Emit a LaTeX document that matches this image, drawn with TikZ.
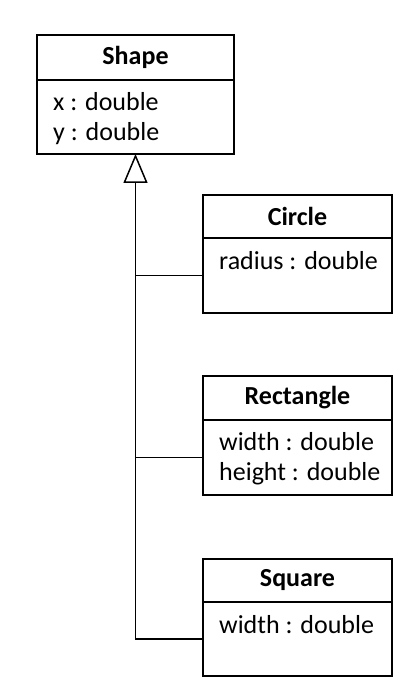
\documentclass[tikz,border=0pt]{standalone}
\usepackage{fontspec}
\setmainfont{Carlito}
\usetikzlibrary{arrows.meta}
\usetikzlibrary{positioning}
\tikzset{class head/.style={rectangle,draw,line width=1.6pt,minimum height=44pt,inner sep=0pt,outer sep=0pt,font=\fontsize{26}{30}\selectfont\bfseries}}
\tikzset{class body/.style={rectangle,draw,line width=1.6pt,minimum height=75pt,inner sep=0pt,outer sep=0pt}}
\tikzset{attr text/.style={anchor=base west,inner sep=0pt,align=left,font=\fontsize{26}{30}\selectfont}}
\tikzset{link/.style={line width=1.5pt}}

\begin{document}
\begin{tikzpicture}[x=1pt,y=1pt]
    \useasboundingbox (0,0) rectangle (420,686);
    % base class
    \node[class head,minimum width=197pt,minimum height=45pt] (shape head) at (135.5,628.5) {Shape};
    \node[class body,minimum width=197pt,minimum height=74pt] (shape body) [below = 0pt of shape head] {};
    \node[attr text] (shape attr) at ([xshift=16pt,yshift=-61pt]shape body.north west) {x : double\\y : double};

    % derived classes
    \node[class head,minimum width=189pt,minimum height=43pt] (circle head) at (297.5,469.5) {Circle};
    \node[class body,minimum width=189pt] (circle body) [below = 0pt of circle head] {};
    \node[attr text] (circle attr) at ([xshift=16pt,yshift=-32pt]circle body.north west) {radius : double};

    \node[class head,minimum width=189pt] (rect head) [below = 63pt of circle body] {Rectangle};
    \node[class body,minimum width=189pt] (rect body) [below = 0pt of rect head] {};
    \node[attr text] (rect attr) at ([xshift=16pt,yshift=-61pt]rect body.north west) {width : double\\height : double};

    \node[class head,minimum width=189pt,minimum height=43pt] (square head) [below = 64pt of rect body] {Square};
    \node[class body,minimum width=189pt,minimum height=74pt] (square body) [below = 0pt of square head] {};
    \node[attr text] (square attr) at ([xshift=16pt,yshift=-32pt]square body.north west) {width : double};

    % generalization
    \draw[link,-{Triangle[open,length=29pt,width=24pt]}] (square body.west) -| (shape body.south);
    \draw[link] (circle body.west) -- (circle body.west -| shape body.south);
    \draw[link] (rect body.west) -- (rect body.west -| shape body.south);
\end{tikzpicture}
\end{document}
